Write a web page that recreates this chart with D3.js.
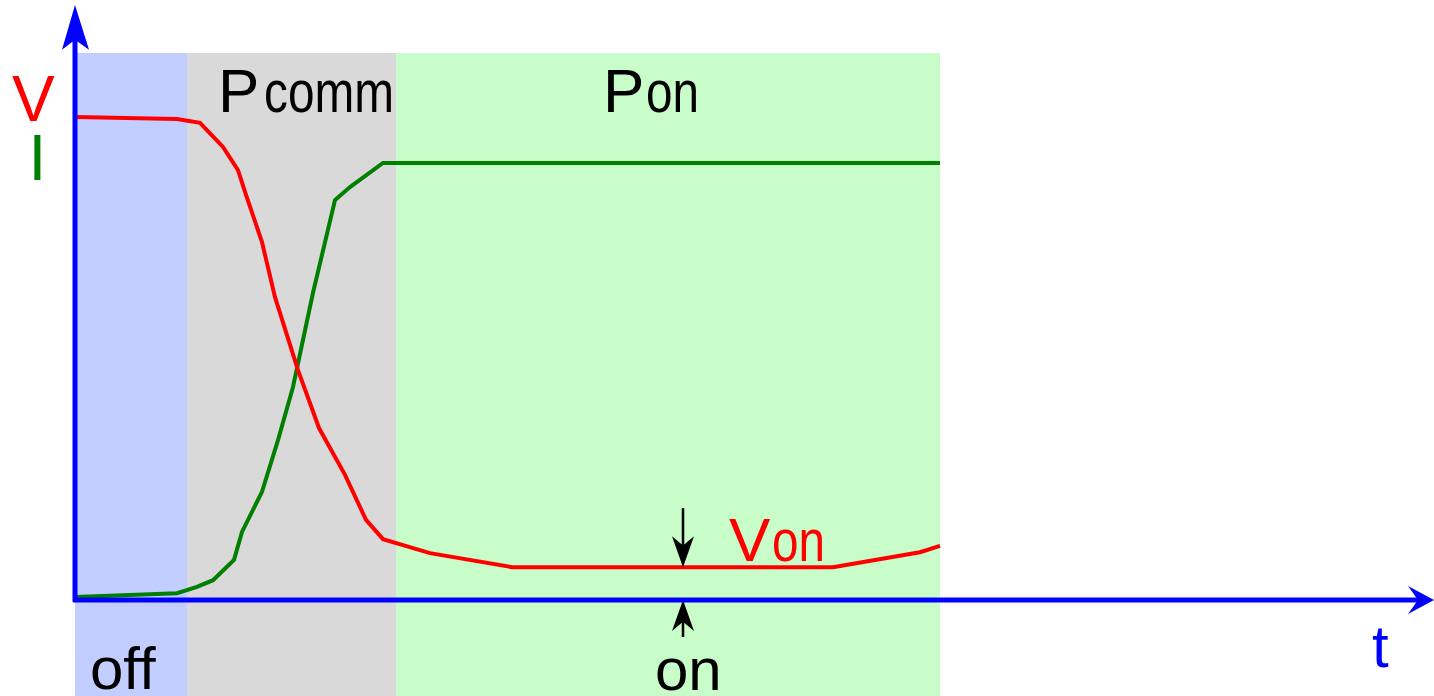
<!DOCTYPE html>
<html>
<head>
<meta charset="utf-8">
<script src="https://cdn.jsdelivr.net/npm/d3@7"></script>
<style>
  html, body { margin: 0; padding: 0; background: #fff; overflow: hidden; }
  text { font-family: "Liberation Sans", Arial, sans-serif; }
</style>
</head>
<body>
<script>
// time axis in arbitrary units, V and I normalised
const timeV = [0, 1.02, 1.25, 1.48, 1.63, 1.71, 1.87, 2.00, 2.23, 2.44, 2.70, 2.91, 3.08, 3.55, 4.37, 7.58, 8.45, 8.65];
const voltage = [1.000, 0.996, 0.988, 0.938, 0.890, 0.839, 0.741, 0.627, 0.476, 0.356, 0.259, 0.166, 0.126, 0.097, 0.068, 0.068, 0.099, 0.112];

const timeI = [0, 1.02, 1.22, 1.38, 1.59, 1.67, 1.87, 2.03, 2.18, 2.38, 2.60, 2.75, 3.08, 6.05, 8.65];
const current = [0.006, 0.014, 0.027, 0.041, 0.083, 0.141, 0.224, 0.331, 0.441, 0.636, 0.828, 0.855, 0.905, 0.905, 0.905];

// shaded phases: off, commutation, on
const phaseNames = ["off", "comm", "on"];
const phaseStart = [0, 1.12, 3.21];
const phaseEnd = [1.12, 3.21, 8.65];
const phaseColors = ["#c2ceff", "#d9d9d9", "#c8fcc8"];

function drawChart(){

    const xSize = 1434; const ySize = 696;

    const svg = d3.select("body")
    .append("svg")
    .attr("class","chart")
    .attr("width", xSize)
    .attr("height", ySize);

    const x = d3.scaleLinear()
    .domain([0, 13.59])
    .range([75, 1434]);

    const y = d3.scaleLinear()
    .domain([0, 1])
    .range([600, 117]);

    // background bands
    svg.selectAll(".phase")
    .data(phaseNames)
    .enter()
    .append("rect")
    .attr("class","phase")
    .attr("x", (d,i) => x(phaseStart[i]))
    .attr("width", (d,i) => x(phaseEnd[i]) - x(phaseStart[i]))
    .attr("y", y(1.1325))
    .attr("height", ySize - y(1.1325))
    .attr("fill", (d,i) => phaseColors[i]);

    //curves

    const vData = timeV.map((t,i) => ({x: t, y: voltage[i]}));
    const iData = timeI.map((t,i) => ({x: t, y: current[i]}));

    const line = d3.line()
    .x(d => x(d.x))
    .y(d => y(d.y));

    svg.append("path")
    .datum(iData)
    .attr("fill","none")
    .attr("stroke","#007f00")
    .attr("stroke-width", 4)
    .attr("d", line);

    svg.append("path")
    .datum(vData)
    .attr("fill","none")
    .attr("stroke","#ff0000")
    .attr("stroke-width", 4)
    .attr("d", line);

    // Von marker arrows
    const vOn = voltage[voltage.length - 4];
    const tOn = 6.08;

    function arrowHead(tipX, tipY, dir, len, half){
        // dir: +1 pointing down/right, -1 pointing up/left ; vertical
        const back = tipY - dir*len;
        const notch = tipY - dir*len*0.7;
        return `M${tipX},${tipY} L${tipX-half},${back} L${tipX},${notch} L${tipX+half},${back} Z`;
    }

    svg.append("line")
    .attr("x1", x(tOn)).attr("x2", x(tOn))
    .attr("y1", y(vOn) - 59).attr("y2", y(vOn) - 10)
    .attr("stroke","black").attr("stroke-width", 2.5);

    svg.append("path")
    .attr("d", arrowHead(x(tOn), y(vOn), 1, 31, 11))
    .attr("fill","black");

    svg.append("line")
    .attr("x1", x(tOn)).attr("x2", x(tOn))
    .attr("y1", y(0) + 10).attr("y2", y(0) + 37)
    .attr("stroke","black").attr("stroke-width", 2.5);

    svg.append("path")
    .attr("d", arrowHead(x(tOn), y(0), -1, 31, 11))
    .attr("fill","black");

    //axes

    svg.append("line")
    .attr("x1", x(0)).attr("x2", x(0))
    .attr("y1", y(0) + 2).attr("y2", y(1.17))
    .attr("stroke","#0000ff").attr("stroke-width", 5);

    svg.append("path")
    .attr("d", `M${x(0)},${y(1.232)} L${x(0)-13},${y(1.139)} L${x(0)},${y(1.16)} L${x(0)+14},${y(1.139)} Z`)
    .attr("fill","#0000ff");

    svg.append("line")
    .attr("x1", x(0) - 2).attr("x2", x(13.45))
    .attr("y1", y(0)).attr("y2", y(0))
    .attr("stroke","#0000ff").attr("stroke-width", 5);

    svg.append("path")
    .attr("d", `M${x(13.59)},${y(0)} L${x(13.33)},${y(0)-14} L${x(13.43)},${y(0)} L${x(13.33)},${y(0)+14} Z`)
    .attr("fill","#0000ff");

    //labels

    svg.append("text")
        .attr("x", 12).attr("y", 121)
        .text("V")
        .style("font-size","64px")
        .attr("fill","#ff0000");

    svg.append("text")
        .attr("x", 37.5).attr("y", 180)
        .attr("text-anchor","middle")
        .text("I")
        .style("font-size","64px")
        .attr("fill","#007f00");

    svg.append("text")
        .attr("x", 1372).attr("y", 667)
        .text("t")
        .style("font-size","60px")
        .attr("fill","#0000ff");

    function subLabel(px, py, main, sub, subX, subW, color){
        svg.append("text")
            .attr("x", px).attr("y", py)
            .text(main)
            .style("font-size","62px")
            .attr("fill", color);
        svg.append("text")
            .attr("x", subX).attr("y", py)
            .attr("textLength", subW)
            .attr("lengthAdjust","spacingAndGlyphs")
            .text(sub)
            .style("font-size","60px")
            .attr("fill", color);
    }

    subLabel(218, 112, "P", "comm", 264, 130, "black");
    subLabel(603, 112, "P", "on", 646, 53, "black");
    subLabel(729, 561, "V", "on", 772, 53, "#ff0000");

    svg.append("text")
        .attr("x", 90).attr("y", 689)
        .text("off")
        .style("font-size","60px");

    svg.append("text")
        .attr("x", 655).attr("y", 690)
        .text("on")
        .style("font-size","60px");
}

drawChart();
</script>
</body>
</html>
